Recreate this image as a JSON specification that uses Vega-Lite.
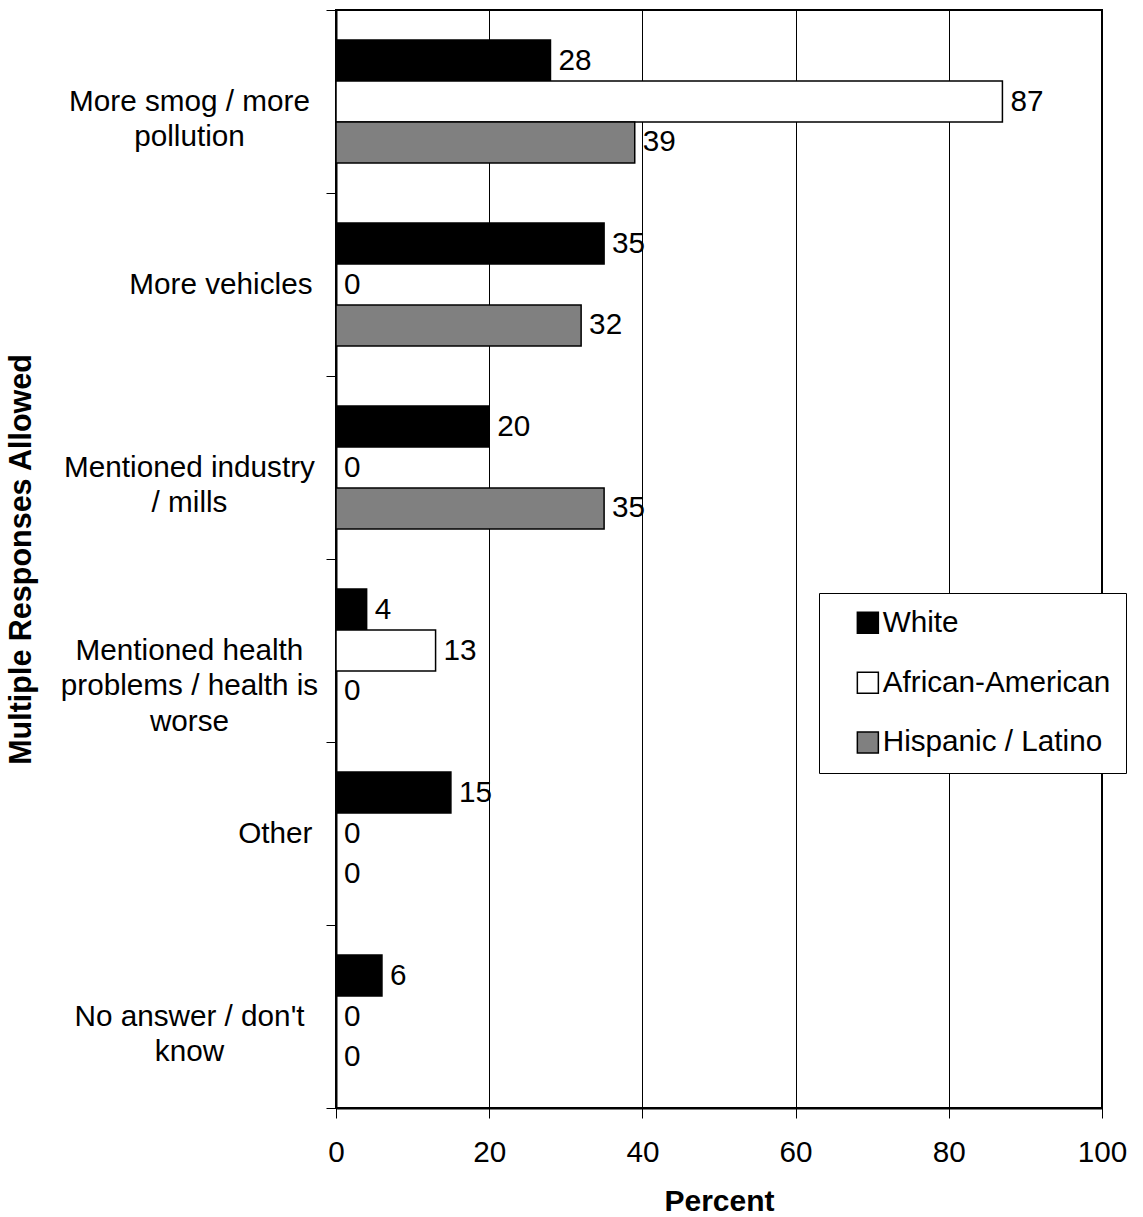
{
  "$schema": "https://vega.github.io/schema/vega-lite/v6.json",
  "width": 766,
  "height": 1098,
  "autosize": {"type": "none"},
  "padding": {"left": 336, "top": 10, "right": 41, "bottom": 109},
  "background": "white",
  "config": {
    "font": "Liberation Sans",
    "view": {"stroke": "black", "strokeWidth": 2}
  },
  "data": {
    "values": [
      {"response": "More smog / more\npollution", "group": "White", "percent": 28},
      {"response": "More smog / more\npollution", "group": "African-American", "percent": 87},
      {"response": "More smog / more\npollution", "group": "Hispanic / Latino", "percent": 39},
      {"response": "More vehicles", "group": "White", "percent": 35},
      {"response": "More vehicles", "group": "African-American", "percent": 0},
      {"response": "More vehicles", "group": "Hispanic / Latino", "percent": 32},
      {"response": "Mentioned industry\n/ mills", "group": "White", "percent": 20},
      {"response": "Mentioned industry\n/ mills", "group": "African-American", "percent": 0},
      {"response": "Mentioned industry\n/ mills", "group": "Hispanic / Latino", "percent": 35},
      {"response": "Mentioned health\nproblems / health is\nworse", "group": "White", "percent": 4},
      {"response": "Mentioned health\nproblems / health is\nworse", "group": "African-American", "percent": 13},
      {"response": "Mentioned health\nproblems / health is\nworse", "group": "Hispanic / Latino", "percent": 0},
      {"response": "Other", "group": "White", "percent": 15},
      {"response": "Other", "group": "African-American", "percent": 0},
      {"response": "Other", "group": "Hispanic / Latino", "percent": 0},
      {"response": "No answer / don't\nknow", "group": "White", "percent": 6},
      {"response": "No answer / don't\nknow", "group": "African-American", "percent": 0},
      {"response": "No answer / don't\nknow", "group": "Hispanic / Latino", "percent": 0}
    ]
  },
  "encoding": {
    "yOffset": {
      "field": "group",
      "type": "nominal",
      "sort": ["White", "African-American", "Hispanic / Latino"],
      "scale": {"paddingInner": 0, "paddingOuter": 0.732}
    },
    "x": {
      "field": "percent",
      "type": "quantitative",
      "scale": {"domain": [0, 100], "nice": false},
      "axis": {
        "values": [0, 20, 40, 60, 80, 100],
        "title": "Percent",
        "titleFontSize": 30,
        "titleFontWeight": "bold",
        "titleColor": "black",
        "titlePadding": 20,
        "labelFontSize": 29.7,
        "labelColor": "black",
        "labelPadding": 20,
        "labelFlush": false,
        "tickSize": 10,
        "tickColor": "black",
        "tickWidth": 1,
        "domainColor": "black",
        "domainWidth": 2,
        "grid": true,
        "gridColor": "black",
        "gridWidth": 1,
        "gridOpacity": 1
      }
    }
  },
  "resolve": {"axis": {"y": "independent"}},
  "layer": [
    {
      "mark": {"type": "bar", "stroke": "black", "strokeWidth": 1.5},
      "encoding": {
        "y": {
          "field": "response",
          "type": "nominal",
          "sort": null,
          "scale": {"paddingInner": 0, "paddingOuter": 0},
          "axis": {
            "orient": "left",
            "offset": 0,
            "title": "Multiple Responses Allowed",
            "titleFontSize": 30.5,
            "titleFontWeight": "bold",
            "titleColor": "black",
            "titlePadding": 100,
            "labelExpr": "indexof(datum.label, '\\n') >= 0 ? '' : datum.label",
            "labelAlign": "right",
            "labelBaseline": "middle",
            "labelFontSize": 29.7,
            "labelColor": "black",
            "labelLimit": 0,
            "labelPadding": 14,
            "tickBand": "extent",
            "tickSize": 10,
            "tickColor": "black",
            "tickWidth": 1,
            "domainColor": "black",
            "domainWidth": 2,
            "grid": false
          }
        },
        "fill": {
          "field": "group",
          "type": "nominal",
          "scale": {
            "domain": ["White", "African-American", "Hispanic / Latino"],
            "range": ["#000000", "#ffffff", "#808080"]
          },
          "legend": {
            "orient": "none",
            "legendX": 483,
            "legendY": 583,
            "title": null,
            "symbolType": "square",
            "symbolSize": 441,
            "symbolStrokeColor": "black",
            "symbolStrokeWidth": 1.5,
            "symbolOffset": 19,
            "labelFontSize": 29.7,
            "labelColor": "black",
            "labelOffset": 0,
            "labelLimit": 0,
            "rowPadding": 28.8,
            "padding": 15,
            "fillColor": "white",
            "strokeColor": "black",
            "cornerRadius": 0
          }
        }
      }
    },
    {
      "mark": {"type": "text", "align": "left", "baseline": "middle", "dx": 8, "fontSize": 29.7, "color": "black"},
      "encoding": {
        "y": {
          "field": "response",
          "type": "nominal",
          "sort": null,
          "axis": {
            "orient": "left",
            "offset": 0,
            "title": null,
            "labelExpr": "indexof(datum.label, '\\n') >= 0 ? split(datum.label, '\\n') : ''",
            "labelAlign": "center",
            "labelBaseline": "middle",
            "labelLineHeight": 35.5,
            "labelFontSize": 29.7,
            "labelColor": "black",
            "labelLimit": 0,
            "labelPadding": 147,
            "ticks": false,
            "tickSize": 0,
            "domain": false,
            "grid": false
          }
        },
        "text": {"field": "percent", "type": "quantitative"}
      }
    }
  ]
}
